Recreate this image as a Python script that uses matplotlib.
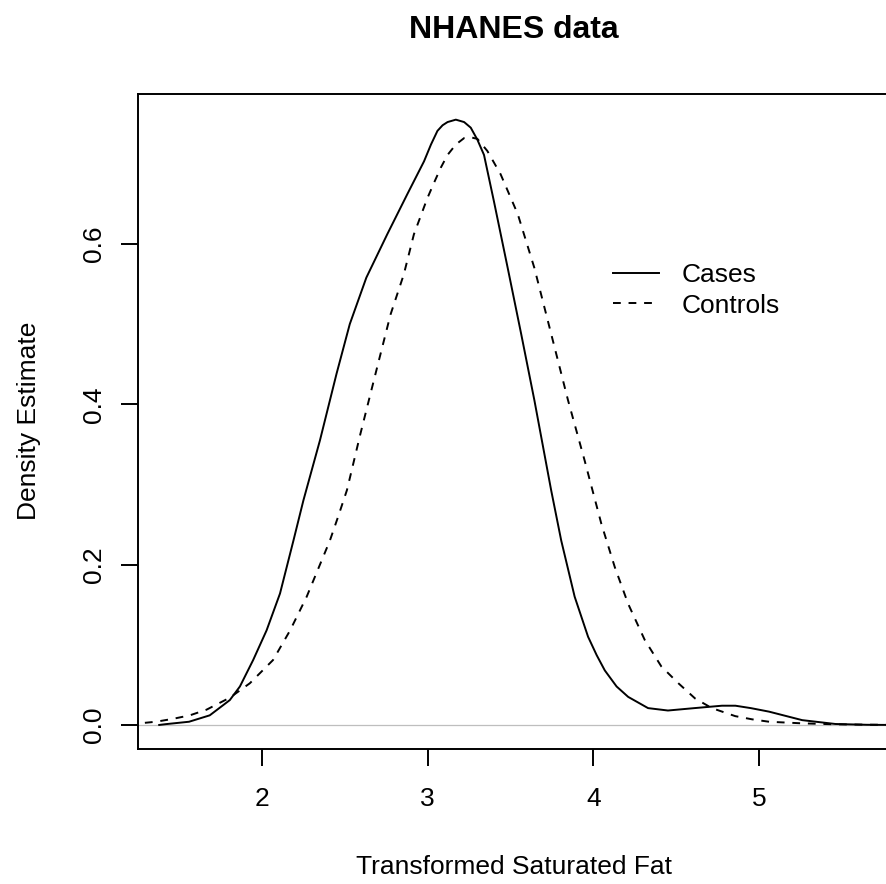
import matplotlib
matplotlib.use("Agg")
import matplotlib.pyplot as plt

plt.rcParams['font.family'] = ['Liberation Sans', 'DejaVu Sans']

# Densidad estimada
cases_x = [1.38, 1.42, 1.56, 1.685, 1.806, 1.867, 1.947, 2.028, 2.109, 2.19,
           2.25, 2.35, 2.45, 2.53, 2.63, 2.756, 2.877, 2.978, 3.02, 3.059,
           3.09, 3.12, 3.17, 3.22, 3.26, 3.30, 3.34, 3.40, 3.483, 3.564,
           3.644, 3.745, 3.806, 3.887, 3.968, 4.02, 4.069, 4.14, 4.21, 4.33,
           4.45, 4.61, 4.776, 4.857, 4.95, 5.06, 5.26, 5.46, 5.65, 5.80]
cases_y = [0.0, 0.001, 0.004, 0.012, 0.031, 0.048, 0.081, 0.118, 0.164, 0.23,
           0.28, 0.355, 0.438, 0.50, 0.558, 0.612, 0.662, 0.703, 0.724, 0.741,
           0.748, 0.752, 0.755, 0.752, 0.745, 0.73, 0.711, 0.653, 0.570, 0.488,
           0.405, 0.293, 0.23, 0.16, 0.11, 0.087, 0.068, 0.048, 0.035, 0.021,
           0.018, 0.021, 0.024, 0.024, 0.021, 0.0166, 0.006, 0.0012, 0.0002, 0.0]

controls_x = [1.20, 1.261, 1.36, 1.46, 1.565, 1.665, 1.806, 1.927, 2.067, 2.17,
              2.27, 2.35, 2.41, 2.46, 2.513, 2.594, 2.695, 2.776, 2.856, 2.917,
              2.998, 3.04, 3.079, 3.12, 3.17, 3.22, 3.26, 3.30, 3.36, 3.44,
              3.544, 3.644, 3.745, 3.847, 3.947, 4.048, 4.129, 4.21, 4.31, 4.41,
              4.513, 4.614, 4.715, 4.856, 4.958, 5.06, 5.26, 5.46, 5.67, 5.85]
controls_y = [0.001, 0.002, 0.004, 0.0075, 0.012, 0.019, 0.034, 0.052, 0.081, 0.118,
              0.16, 0.20, 0.23, 0.26, 0.293, 0.363, 0.446, 0.512, 0.562, 0.612,
              0.657, 0.677, 0.695, 0.711, 0.724, 0.732, 0.733, 0.731, 0.716, 0.687,
              0.637, 0.570, 0.488, 0.405, 0.330, 0.251, 0.197, 0.151, 0.106, 0.073,
              0.052, 0.033, 0.021, 0.011, 0.007, 0.004, 0.002, 0.0008, 0.0003, 0.0001]

xticks = [2, 3, 4, 5]
yticks = [0.0, 0.2, 0.4, 0.6]
ytick_labels = ['0.0', '0.2', '0.4', '0.6']

W, H = 887, 884
fig = plt.figure(figsize=(W / 100, H / 100), dpi=100)
ax = fig.add_axes([138 / W, 1 - 749 / H, (890 - 138) / W, (749 - 94) / H])

# Linea base y curvas
ax.axhline(0, color='#BEBEBE', lw=0.9, zorder=1)
ax.plot(cases_x, cases_y, color='black', lw=1.4, label='Cases')
ax.plot(controls_x, controls_y, color='black', lw=1.4, ls=(0, (4, 4)), label='Controls')

ax.set_xlim(1.252, 5.79)
ax.set_ylim(-0.030, 0.787)

for s in ax.spines.values():
    s.set_linewidth(1.4)

fs = 19
ax.set_xticks(xticks)
ax.set_yticks(yticks)
ax.set_yticklabels(ytick_labels, rotation=90, va='center')
ax.tick_params(direction='out', length=12, width=1.4, labelsize=fs, color='black')
ax.tick_params(axis='x', pad=15)
ax.tick_params(axis='y', pad=11)

# Leyenda sin marco
ax.legend(loc='upper left', bbox_to_anchor=(613 / W, 1 - 263 / H),
          bbox_transform=fig.transFigure, frameon=False, fontsize=fs,
          handlelength=1.75, handletextpad=0.85, labelspacing=0.25,
          borderpad=0, borderaxespad=0)

# Titulos
fig.text(514 / W, 1 - 38 / H, 'NHANES data', ha='center', va='baseline',
         fontsize=23, fontweight='bold')
fig.text(514 / W, 1 - 874 / H, 'Transformed Saturated Fat', ha='center',
         va='baseline', fontsize=fs)
fig.text(36 / W, 1 - 421 / H, 'Density Estimate', ha='center', va='baseline',
         rotation=90, rotation_mode='anchor', fontsize=fs)

fig.savefig('out.png', dpi=100)
